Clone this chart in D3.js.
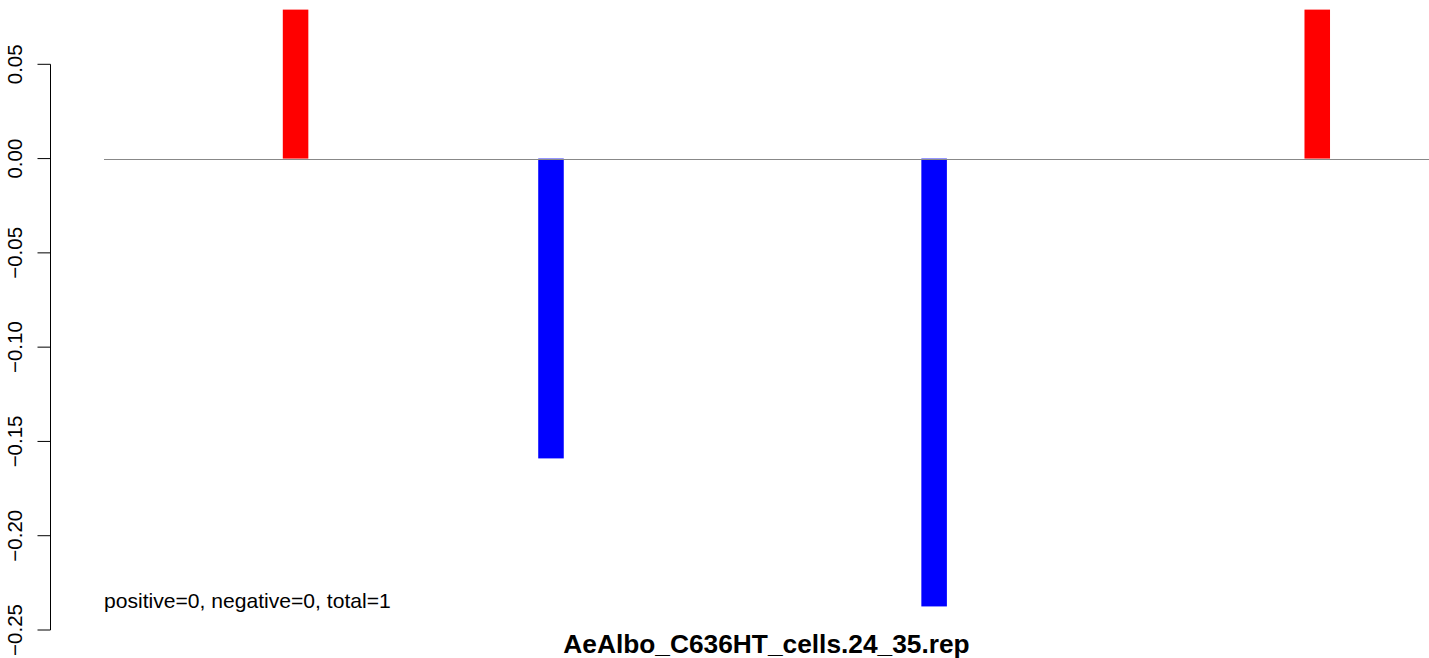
<!DOCTYPE html>
<html><head><meta charset="utf-8">
<script src="https://cdn.jsdelivr.net/npm/d3@7"></script>
<style>html,body{margin:0;padding:0;background:#fff;}svg{display:block;font-family:"Liberation Sans",Arial,sans-serif;}</style>
</head><body>
<script>
const positions = [2, 4, 7, 10];
const values = [0.079, -0.159, -0.2375, 0.079];
const colors = ["#ff0000", "#0000ff", "#0000ff", "#ff0000"];
const yTicks = [-0.25, -0.20, -0.15, -0.10, -0.05, 0.00, 0.05];
const titleText = "AeAlbo_C636HT_cells.24_35.rep";
const noteText = "positive=0, negative=0, total=1";

const W = 1429, H = 658;
const svg = d3.select("body").append("svg").attr("width", W).attr("height", H);

const x = d3.scaleLinear().domain([0.5, 10.875]).range([104, 1429]);
const y = d3.scaleLinear().domain([-0.25, 0.05]).range([630, 64.3]);
const barW = x(0.2) - x(0);

// bars
svg.append("g").selectAll("rect").data(positions).join("rect")
  .attr("x", (d) => x(d) - barW / 2)
  .attr("width", barW)
  .attr("y", (d, i) => Math.min(y(values[i]), y(0)))
  .attr("height", (d, i) => Math.abs(y(values[i]) - y(0)))
  .attr("fill", (d, i) => colors[i]);

// zero line
svg.append("line")
  .attr("x1", x(0.5)).attr("x2", x(10.875))
  .attr("y1", Math.round(y(0)) + 0.5).attr("y2", Math.round(y(0)) + 0.5)
  .attr("stroke", "#888").attr("stroke-width", 1);

// y axis
const axisG = svg.append("g").attr("transform", "translate(50.5,0)");
axisG.append("line").attr("x1", 0).attr("x2", 0)
  .attr("y1", y(-0.25)).attr("y2", y(0.05)).attr("stroke", "#000");
axisG.selectAll("line.tick").data(yTicks).join("line").attr("class", "tick")
  .attr("x1", -13).attr("x2", 0)
  .attr("y1", (d) => y(d)).attr("y2", (d) => y(d)).attr("stroke", "#000");
axisG.selectAll("text").data(yTicks).join("text")
  .attr("transform", (d) => `translate(-28.5,${y(d)}) rotate(-90)`)
  .attr("text-anchor", "middle")
  .attr("font-size", 20.5)
  .attr("fill", "#000")
  .text((d) => d3.format(".2f")(d).replace("-", "\u2212"));

// note
svg.append("text").attr("x", 104).attr("y", 607.5)
  .attr("font-size", 21.1).attr("fill", "#000").text(noteText);

// title
svg.append("text").attr("x", (x(0.5) + x(10.875)) / 2).attr("y", 653)
  .attr("text-anchor", "middle").attr("font-size", 26.3).attr("font-weight", "bold")
  .attr("fill", "#000").text(titleText);
</script>
</body></html>
